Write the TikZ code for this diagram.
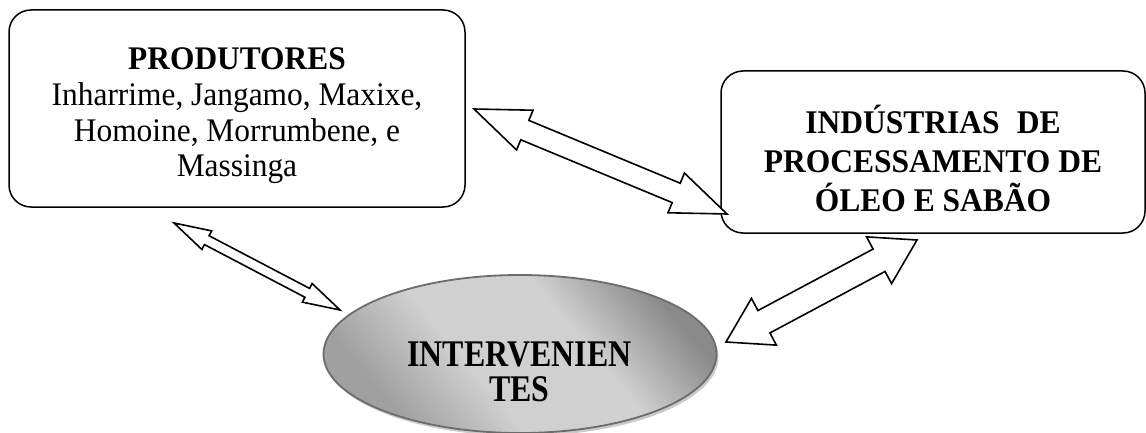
\documentclass[tikz,border=0pt]{standalone}
\usepackage{fontspec}
\setmainfont{Liberation Serif}
\usetikzlibrary{calc,shadows,shapes.geometric}

\definecolor{rimgray}{HTML}{6C6C6C}
\definecolor{shadedark}{HTML}{8A8A8A}
\definecolor{shadelow}{HTML}{A0A0A0}
\definecolor{shadelight}{HTML}{D0D0D0}

% diagonal grey band for the oval: darker at both ends, light in the middle
\pgfdeclareverticalshading{ovalshade}{100bp}{%
  color(0bp)=(shadelow); color(27bp)=(shadelow);
  color(42bp)=(shadelight); color(60bp)=(shadelight);
  color(75bp)=(shadedark); color(100bp)=(shadedark)}

\tikzset{
  box/.style={draw, line width=1.5pt, rounded corners=22pt, inner sep=0pt},
  boxtext/.style={align=center, inner sep=0pt, transform shape},
  blockarr/.style={draw, fill=white, line width=1.6pt, line join=miter},
  oval/.style={ellipse, draw=rimgray, line width=1.8pt,
    shading=ovalshade, shading angle=-50,
    drop shadow={shadow xshift=2pt, shadow yshift=-3pt, fill=gray!70, opacity=0.6}},
}

% double-headed block arrow between two named points:
% #1,#2 tips, #3 shaft half-width, #4 head half-width, #5 head length
\newcommand\dblarrow[5]{%
  \draw[blockarr] (#1)
    -- ($(#1)!#5!(#2)!#4!90:(#2)$)
    -- ($(#1)!#5!(#2)!#3!90:(#2)$)
    -- ($(#2)!#5!(#1)!#3!-90:(#1)$)
    -- ($(#2)!#5!(#1)!#4!-90:(#1)$)
    -- (#2)
    -- ($(#2)!#5!(#1)!#4!90:(#1)$)
    -- ($(#2)!#5!(#1)!#3!90:(#1)$)
    -- ($(#1)!#5!(#2)!#3!-90:(#2)$)
    -- ($(#1)!#5!(#2)!#4!-90:(#2)$)
    -- cycle;}

\begin{document}
\begin{tikzpicture}[x=1pt,y=1pt]
\useasboundingbox (0,0) rectangle (1146,-433);

% producers box
\node[box, minimum width=456pt, minimum height=197pt] (prod) at (237,-108.5) {};
\node[boxtext, yscale=1.05, font=\fontsize{31.4}{34}\selectfont] (prodtxt) at (237,-116)
  {\textbf{PRODUTORES}\\Inharrime, Jangamo, Maxixe,\\Homoine, Morrumbene, e\\Massinga};

% industries box
\node[box, minimum width=424pt, minimum height=162pt] (ind) at (933,-152) {};
\node[boxtext, yscale=1.05, font=\fontsize{31.5}{36.7}\selectfont\bfseries] (indtxt) at (933,-158.5)
  {INDÚSTRIAS\hspace{0.55em}DE\\PROCESSAMENTO DE\\ÓLEO E SABÃO};

% stakeholders ellipse
\node[oval, minimum width=393pt, minimum height=158pt] (inter) at (520,-354) {};
\node[boxtext, yscale=1.18, font=\fontsize{31.9}{29.7}\selectfont\bfseries] (intertxt) at (519.5,-371.5)
  {INTERVENIEN\\TES};

% arrow tips
\coordinate (a1) at (474,-109);
\coordinate (a2) at (727,-214);
\coordinate (b1) at (174,-223);
\coordinate (b2) at (340,-310);
\coordinate (c1) at (726,-342);
\coordinate (c2) at (917,-240);

\dblarrow{a1}{a2}{10.5pt}{21.5pt}{55pt}
\dblarrow{b1}{b2}{5pt}{10.5pt}{37pt}
\dblarrow{c1}{c2}{12.7pt}{26.5pt}{43pt}
\end{tikzpicture}
\end{document}
